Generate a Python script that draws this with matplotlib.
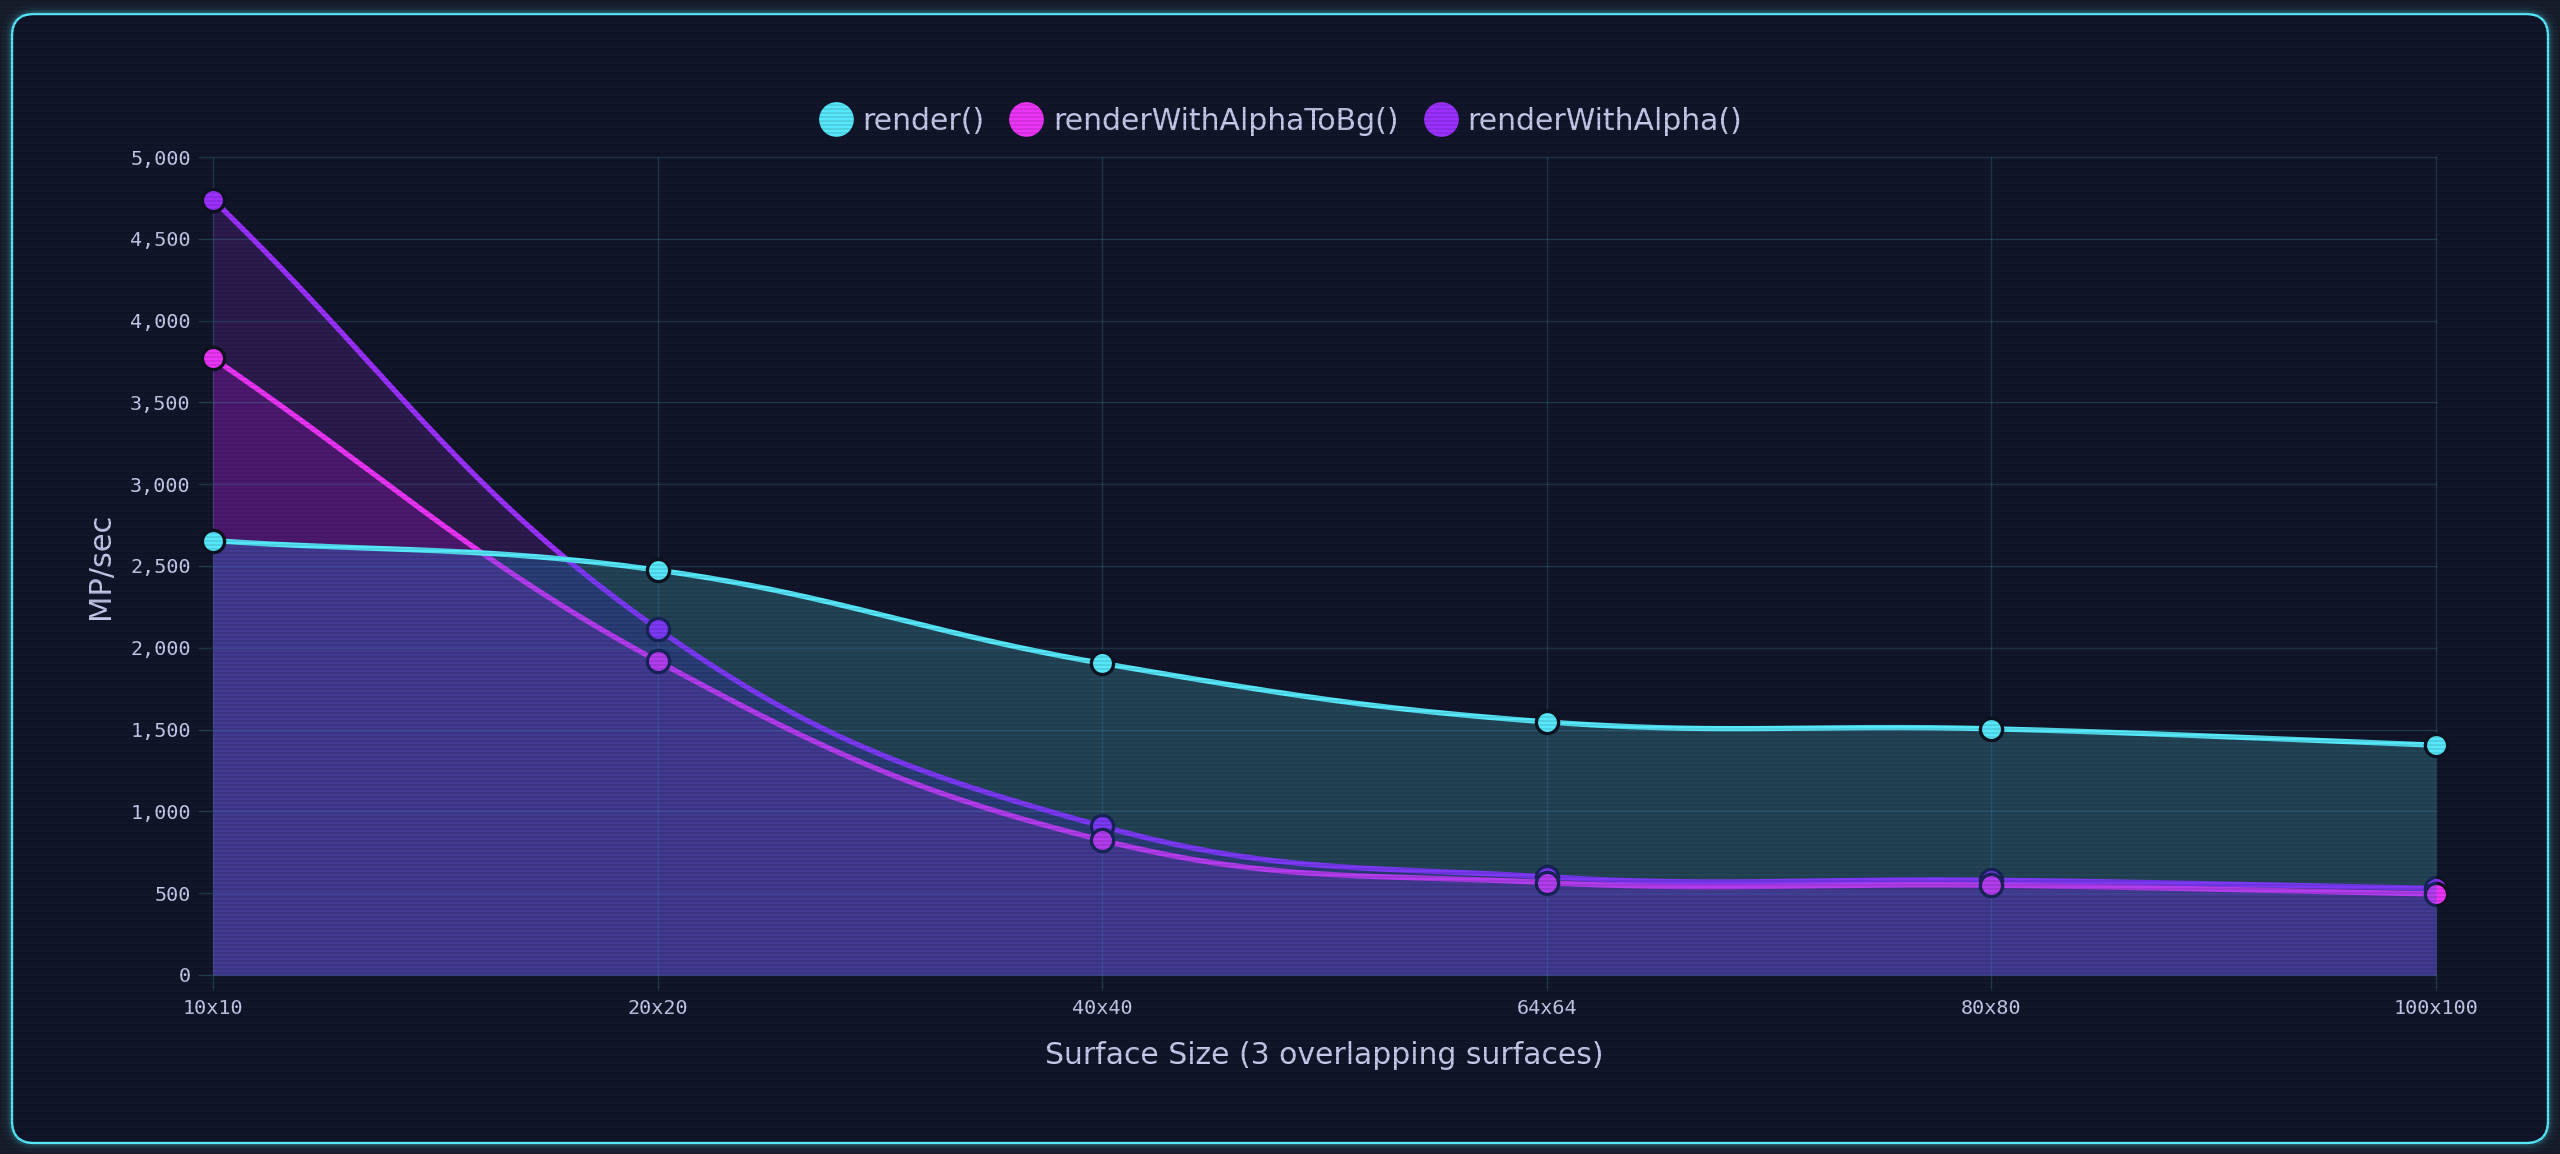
import numpy as np
import matplotlib
matplotlib.use("Agg")
import matplotlib.pyplot as plt
from matplotlib.colors import to_rgb
from matplotlib.lines import Line2D
from matplotlib.patches import FancyBboxPatch
from matplotlib.transforms import IdentityTransform
from matplotlib.ticker import FuncFormatter

plt.rcParams["font.family"] = ["DejaVu Sans"]

# values (MP/sec)
sizes = ["10x10", "20x20", "40x40", "64x64", "80x80", "100x100"]
render = [2655, 2475, 1905, 1547, 1505, 1405]
render_alpha_to_bg = [3770, 1919, 824, 565, 549, 495]
render_alpha = [4739, 2116, 909, 600, 580, 530]
series_names = ["render()", "renderWithAlphaToBg()", "renderWithAlpha()"]
y_ticks = list(range(0, 5001, 500))

W, H = 2560, 1154
BG_OUT = "#181d2c"
BG_IN = "#11162a"
TXT = "#c9c9ec"
GRID = "#1f3c48"
CYAN = "#56e8fa"
MAGENTA = "#ec34f7"
PURPLE = "#9b30ff"
EDGE = "#0e1322"

fig = plt.figure(figsize=(W / 100, H / 100), dpi=100, facecolor=BG_OUT)

# neon frame with a soft glow
for lw, a in [(20, 0.03), (12, 0.06), (7, 0.12)]:
    fig.add_artist(FancyBboxPatch((12, 11), 2536, 1129, boxstyle="round,pad=0,rounding_size=22",
                                  fc="none", ec=CYAN, lw=lw * 0.72, alpha=a,
                                  transform=IdentityTransform(), zorder=-5))
fig.add_artist(FancyBboxPatch((12, 11), 2536, 1129, boxstyle="round,pad=0,rounding_size=22",
                              fc=BG_IN, ec=CYAN, lw=2.4 * 0.72,
                              transform=IdentityTransform(), zorder=-4))

ax = fig.add_axes([213 / W, 1 - 975 / H, (2436 - 213) / W, (975 - 157) / H])
ax.set_facecolor("none")
ax.set_xlim(0, len(sizes) - 1)
ax.set_ylim(0, 5000)
x_idx = np.arange(len(sizes))


def chartjs_spline(xs, ys, tension=0.4, n=150):
    # same bezier control points as Chart.js (computed in pixel space)
    pts = ax.transData.transform(np.column_stack([xs, ys]))
    cp_prev, cp_next = pts.copy(), pts.copy()
    k = len(pts)
    for i in range(k):
        p0, p1, p2 = pts[max(i - 1, 0)], pts[i], pts[min(i + 1, k - 1)]
        d01, d12 = np.hypot(*(p1 - p0)), np.hypot(*(p2 - p1))
        tot = d01 + d12
        s01 = d01 / tot if tot else 0.0
        s12 = d12 / tot if tot else 0.0
        cp_prev[i] = p1 - tension * s01 * (p2 - p0)
        cp_next[i] = p1 + tension * s12 * (p2 - p0)
    t = np.linspace(0, 1, n)[:, None]
    segs = []
    for i in range(k - 1):
        a, b, c, d = pts[i], cp_next[i], cp_prev[i + 1], pts[i + 1]
        seg = (1 - t) ** 3 * a + 3 * (1 - t) ** 2 * t * b + 3 * (1 - t) * t ** 2 * c + t ** 3 * d
        segs.append(seg if i == 0 else seg[1:])
    return ax.transData.inverted().transform(np.vstack(segs))


curves = [chartjs_spline(x_idx, s) for s in (render, render_alpha_to_bg, render_alpha)]
gx = np.linspace(0, len(sizes) - 1, 3001)
ys = np.array([np.interp(gx, c[:, 0], c[:, 1]) for c in curves])  # 0 cyan, 1 magenta, 2 purple

# colour of each area, depending on which fills cover it
tint = np.array(to_rgb("#3250dc"))
tint_a = 0.3
area_colors = {
    frozenset({0, 1, 2}): "#433a92",
    frozenset({2}): "#2c1b4e",
    frozenset({1}): "#3c1950",
    frozenset({0}): "#234556",
    frozenset({1, 2}): "#4c196e",
    frozenset({0, 2}): "#2a3e76",
    frozenset({0, 1}): "#383470",
}


def base_color(key):
    c = np.array(to_rgb(area_colors[key]))
    if 0 in key:  # these get the tint layer on top later
        c = np.clip((c - tint_a * tint) / (1 - tint_a), 0, 1)
    return c


def grow(m):
    return m | np.roll(m, 1) | np.roll(m, -1)


order = np.argsort(ys, axis=0)
lo, mid, hi = np.sort(ys, axis=0)
for k in range(3):
    ax.fill_between(gx, 0, hi, where=grow(order[2] == k), color=base_color(frozenset({k})),
                    lw=0, zorder=1)
for k in range(3):
    ax.fill_between(gx, 0, mid, where=grow(order[0] == k),
                    color=base_color(frozenset({0, 1, 2}) - {k}), lw=0, zorder=1.1)
ax.fill_between(gx, 0, lo, color=base_color(frozenset({0, 1, 2})), lw=0, zorder=1.2)

# purple and magenta lines, then the cyan layer over them
for vals, curve, col, z in [(render_alpha, curves[2], PURPLE, 3),
                            (render_alpha_to_bg, curves[1], MAGENTA, 3.5)]:
    ax.plot(curve[:, 0], curve[:, 1], color=col, lw=3.8, zorder=z, solid_capstyle="round")
    ax.plot(x_idx, vals, "o", ms=16, mfc=col, mec=EDGE, mew=2.4, zorder=z + 0.1, clip_on=False)

ax.fill_between(gx, 0, ys[0], color=tint, alpha=tint_a, lw=0, zorder=5)
ax.plot(curves[0][:, 0], curves[0][:, 1], color=CYAN, lw=3.8, zorder=6, solid_capstyle="round")
ax.plot(x_idx, render, "o", ms=16, mfc=CYAN, mec=EDGE, mew=2.4, zorder=6.1, clip_on=False)

# axes, grid, ticks
for s in ax.spines.values():
    s.set_visible(False)
ax.set_xticks(x_idx, sizes)
ax.set_yticks(y_ticks)
ax.yaxis.set_major_formatter(FuncFormatter(lambda v, _: f"{int(v):,}"))
ax.set_axisbelow(False)
ax.grid(True, color="#4fb0c0", alpha=0.22, lw=1.0)
for gl in ax.get_xgridlines() + ax.get_ygridlines():
    gl.set_clip_on(False)
ax.tick_params(axis="both", length=11, width=1, color=GRID, labelcolor=TXT, labelsize=14.5)
ax.tick_params(axis="y", pad=5)
ax.tick_params(axis="x", pad=6)
for lab in ax.get_xticklabels() + ax.get_yticklabels():
    lab.set_family("DejaVu Sans Mono")

ax.text(-0.0504, 0.5, "MP/sec", transform=ax.transAxes, rotation=90, ha="center", va="center",
        fontsize=22, color=TXT)
ax.text(0.5, -0.098, "Surface Size (3 overlapping surfaces)", transform=ax.transAxes,
        ha="center", va="center", fontsize=21.5, color=TXT)

handles = [Line2D([], [], ls="none", marker="o", ms=25, mfc=c, mec="none")
           for c in (CYAN, MAGENTA, PURPLE)]
fig.legend(handles, series_names, loc="center", bbox_to_anchor=(0.5, 1 - 121 / H), ncol=3,
           frameon=False, fontsize=21.5, labelcolor=TXT, handlelength=1.2, handletextpad=0.3,
           columnspacing=0.8, borderaxespad=0)

# faint horizontal scanlines over everything
ov = fig.add_axes([0, 0, 1, 1], zorder=20)
ov.axis("off")
rows = np.zeros((H, 1, 4))
rows[np.arange(H) % 4 < 2, 0, 3] = 0.10
ov.imshow(rows, aspect="auto", interpolation="nearest", extent=(0, 1, 0, 1))

fig.savefig("out.png", dpi=100, facecolor=fig.get_facecolor())
